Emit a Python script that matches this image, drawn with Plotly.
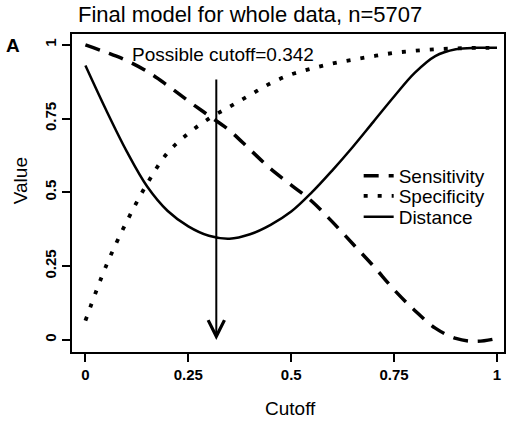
import plotly.graph_objects as go

# ---- data ----
cutoff = [0.0, 0.05, 0.1, 0.15, 0.2, 0.25, 0.3, 0.35, 0.4, 0.45, 0.5,
          0.55, 0.6, 0.65, 0.7, 0.75, 0.8, 0.85, 0.9, 0.95, 1.0]
sensitivity = [1.0, 0.975, 0.947, 0.91, 0.862, 0.81, 0.76, 0.71, 0.645, 0.58, 0.525,
               0.47, 0.40, 0.325, 0.25, 0.17, 0.10, 0.04, 0.005, -0.005, 0.005]
specificity = [0.065, 0.25, 0.40, 0.53, 0.635, 0.70, 0.75, 0.79, 0.83, 0.87, 0.90,
               0.92, 0.937, 0.95, 0.962, 0.973, 0.98, 0.985, 0.988, 0.99, 0.99]
distance = [0.93, 0.78, 0.64, 0.52, 0.437, 0.385, 0.353, 0.343, 0.358, 0.39, 0.435,
            0.50, 0.575, 0.655, 0.74, 0.825, 0.905, 0.962, 0.985, 0.99, 0.99]
chosen_cutoff = 0.318
arrow_top = 0.888
cutoff_label = "Possible cutoff=0.342"
tick_vals = [0, 0.25, 0.5, 0.75, 1]
tick_text = ["0", "0.25", "0.5", "0.75", "1"]

FONT = "Liberation Sans, Arial, sans-serif"

fig = go.Figure()
fig.add_trace(go.Scatter(x=cutoff, y=sensitivity, mode="lines", name="Sensitivity", legend="legend",
                         line=dict(color="black", width=3.5, dash="15px,10px", shape="spline")))
fig.add_trace(go.Scatter(x=cutoff, y=specificity, mode="lines", name="Specificity", legend="legend2",
                         line=dict(color="black", width=3.8, dash="4px,10px", shape="spline")))
fig.add_trace(go.Scatter(x=cutoff, y=distance, mode="lines", name="Distance", legend="legend3",
                         line=dict(color="black", width=2.5, shape="spline")))

# arrow
fig.add_annotation(x=chosen_cutoff, y=0.0, ax=chosen_cutoff, ay=arrow_top,
                   xref="x", yref="y", axref="x", ayref="y", text="",
                   showarrow=True, arrowhead=5, arrowsize=1.6, arrowwidth=2,
                   arrowcolor="black", standoff=0, startstandoff=0)
fig.add_annotation(x=0.334, y=0.968, xref="x", yref="y", text=cutoff_label,
                   showarrow=False, xanchor="center", yanchor="middle",
                   font=dict(family=FONT, size=19, color="black"))
# panel letter
fig.add_annotation(x=-0.136, y=0.965, xref="paper", yref="paper", text="<b>A</b>",
                   showarrow=False, xanchor="center", yanchor="middle",
                   font=dict(family=FONT, size=19, color="black"))
# axis titles
fig.add_annotation(x=(292 - 72) / 434, y=-(408 - 352) / 318, xref="paper", yref="paper",
                   text="Cutoff", showarrow=False, xanchor="center", yanchor="middle",
                   font=dict(family=FONT, size=19, color="black"))
fig.add_annotation(x=-(72 - 20) / 434, y=(352 - 181) / 318, xref="paper", yref="paper",
                   text="Value", showarrow=False, xanchor="center", yanchor="middle",
                   textangle=-90, font=dict(family=FONT, size=19, color="black"))

axis_common = dict(showline=True, linecolor="black", linewidth=2, mirror=True,
                   ticks="outside", ticklen=8, tickwidth=2, tickcolor="black",
                   showgrid=False, zeroline=False, tickvals=tick_vals, ticktext=tick_text,
                   tickfont=dict(family=FONT, size=15, color="black", weight="bold"))

fig.update_xaxes(range=[-0.0326, 1.017], **axis_common)
fig.update_yaxes(range=[-0.041, 1.037], tickangle=-90, **axis_common)

legend_common = dict(xanchor="left", yanchor="top", bgcolor="rgba(0,0,0,0)", borderwidth=0,
                     font=dict(family=FONT, size=19, color="black"))
lx = (360 - 72) / 434
fig.update_layout(
    width=510, height=421,
    margin=dict(l=72, r=4, t=34, b=69),
    paper_bgcolor="white", plot_bgcolor="white",
    title=dict(text="Final model for whole data, n=5707", x=(251 - 72) / 434, xref="paper",
               xanchor="center", y=1 - 14 / 421, yref="container", yanchor="middle",
               font=dict(family=FONT, size=22, color="black")),
    legend=dict(x=lx, y=(352 - 157) / 318, **legend_common),
    legend2=dict(x=lx, y=(352 - 177) / 318, **legend_common),
    legend3=dict(x=lx, y=(352 - 198) / 318, **legend_common),
    showlegend=True,
)

fig.write_html("out.html")
